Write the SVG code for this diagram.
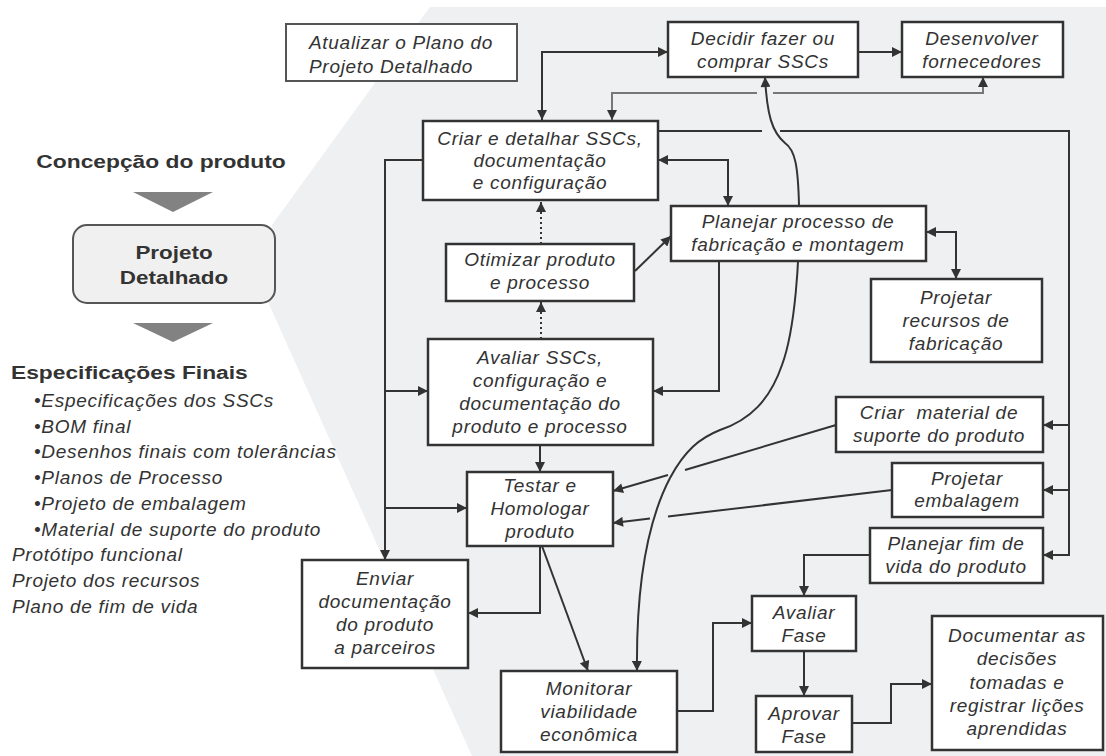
<svg xmlns="http://www.w3.org/2000/svg" width="1106" height="756" viewBox="0 0 1106 756">
  <defs>
    <style>
      .bg { fill: #eff0f2; }
      .box { fill: #ffffff; stroke: #333333; stroke-width: 2.5; }
      .t { font-family: "Liberation Sans", Arial, sans-serif; font-style: italic; font-size: 19px; letter-spacing: 0.7px; fill: #333333; text-anchor: middle; }
      .tl { text-anchor: start; }
      .b { font-family: "Liberation Sans", Arial, sans-serif; font-weight: bold; font-size: 19px; fill: #333333; }
      .ln { fill: none; stroke: #333333; stroke-width: 2; }
      .lt { stroke: #777777; }
      .dot { stroke-dasharray: 2 3; }
      .tri { fill: #828282; }
    </style>
    <marker id="ah" viewBox="0 0 10 10" refX="10" refY="5" markerWidth="11" markerHeight="10" markerUnits="userSpaceOnUse" orient="auto-start-reverse">
      <path d="M0,0 L10,5 L0,10 z" fill="#333333"/>
    </marker>
  </defs>

  <!-- background panel of the phase -->
  <polygon class="bg" points="430,7 1106,7 1106,756 472,756 268,302 272,225"/>

  <!-- left column: phase context -->
  <g id="fase">
    <text class="b" text-anchor="middle" transform="translate(161,168) scale(1.2,1)">Concepção do produto</text>
    <polygon class="tri" points="133,192 213,192 173,212"/>
    <rect x="73" y="225" width="202" height="78" rx="14" fill="#f0f0f0" stroke="#555555" stroke-width="2"/>
    <text class="b" text-anchor="middle" transform="translate(174,259) scale(1.18,1)">Projeto</text>
    <text class="b" text-anchor="middle" transform="translate(174,284) scale(1.18,1)">Detalhado</text>
    <polygon class="tri" points="133,323 213,323 173,342"/>
  </g>

  <g id="saidas">
    <text class="b" transform="translate(11,379) scale(1.2,1)">Especificações Finais</text>
    <text class="t tl" x="34" y="407">•Especificações dos SSCs</text>
    <text class="t tl" x="34" y="433">•BOM final</text>
    <text class="t tl" x="34" y="458">•Desenhos finais com tolerâncias</text>
    <text class="t tl" x="34" y="484">•Planos de Processo</text>
    <text class="t tl" x="34" y="510">•Projeto de embalagem</text>
    <text class="t tl" x="34" y="536">•Material de suporte do produto</text>
    <text class="t tl" x="12" y="561">Protótipo funcional</text>
    <text class="t tl" x="12" y="587">Projeto dos recursos</text>
    <text class="t tl" x="12" y="613">Plano de fim de vida</text>
  </g>

  <!-- connectors -->
  <g id="connectors">
    <path class="ln" d="M542,120 V52 H668" marker-start="url(#ah)" marker-end="url(#ah)"/>
    <path class="ln" d="M858,52 H902" marker-end="url(#ah)"/>
    <path class="ln lt" d="M612,120 V93 H757" marker-start="url(#ah)"/>
    <path class="ln lt" d="M773,93 H983 V77" marker-end="url(#ah)"/>
    <path class="ln" d="M658,131 H762"/>
    <path class="ln" d="M780,131 H1069 V555 H1043" marker-end="url(#ah)"/>
    <path class="ln" d="M1069,425 H1043" marker-end="url(#ah)"/>
    <path class="ln" d="M1069,490 H1043" marker-end="url(#ah)"/>
    <path class="ln" d="M658,160 H728 V206" marker-start="url(#ah)" marker-end="url(#ah)"/>
    <path class="ln" d="M423,160 H385 V560" marker-end="url(#ah)"/>
    <path class="ln" d="M385,391 H428" marker-end="url(#ah)"/>
    <path class="ln" d="M385,508 H467" marker-end="url(#ah)"/>
    <path class="ln dot" d="M541,244 V202" marker-end="url(#ah)"/>
    <path class="ln dot" d="M541,339 V302" marker-end="url(#ah)"/>
    <path class="ln" d="M635,271 L671,236" marker-end="url(#ah)"/>
    <path class="ln" d="M926,232 H956 V279" marker-start="url(#ah)" marker-end="url(#ah)"/>
    <path class="ln" d="M719,262 V391 H653" marker-end="url(#ah)"/>
    <path class="ln" d="M540,445 V472" marker-end="url(#ah)"/>
    <path class="ln" d="M540,546 V613 H468" marker-end="url(#ah)"/>
    <path class="ln" d="M542,546 L588,671" marker-end="url(#ah)"/>
    <path class="ln" d="M836,425 L685,470"/>
    <path class="ln" d="M668,475 L613,491" marker-end="url(#ah)"/>
    <path class="ln" d="M892,490 L668,516.5"/>
    <path class="ln" d="M650,518.5 L613,523" marker-end="url(#ah)"/>
    <path class="ln" d="M870,555 H804 V596" marker-end="url(#ah)"/>
    <path class="ln" d="M804,651 V696" marker-end="url(#ah)"/>
    <path class="ln" d="M677,711 H713 V623 H752" marker-end="url(#ah)"/>
    <path class="ln" d="M852,723 H891 V684 H932" marker-end="url(#ah)"/>
    <path class="ln" stroke-width="1.8" d="M765,77 C767,115 772,132 785,143 C795,150 798,165 799,205 C800,260 795,330 782,365 C770,400 750,420 720,430 C700,438 685,450 670,478 C648,520 636,580 637,671" marker-start="url(#ah)" marker-end="url(#ah)"/>
  </g>

  <!-- activities -->
  <g id="atualizar">
    <rect x="286" y="24" width="231" height="57" fill="#ffffff" stroke="#555555" stroke-width="2"/>
    <text class="t tl" x="309" y="49">Atualizar o Plano do</text>
    <text class="t tl" x="309" y="73">Projeto Detalhado</text>
  </g>
  <g id="decidir">
    <rect class="box" x="668" y="22" width="190" height="55"/>
    <text class="t" x="763" y="45">Decidir fazer ou</text>
    <text class="t" x="763" y="68">comprar SSCs</text>
  </g>
  <g id="desenvolver">
    <rect class="box" x="902" y="22" width="161" height="55"/>
    <text class="t" x="982" y="45">Desenvolver</text>
    <text class="t" x="982" y="68">fornecedores</text>
  </g>
  <g id="criar">
    <rect class="box" x="423" y="121" width="235" height="79" stroke-width="3"/>
    <text class="t" x="540" y="145">Criar e detalhar SSCs,</text>
    <text class="t" x="540" y="167">documentação</text>
    <text class="t" x="540" y="189">e configuração</text>
  </g>
  <g id="otimizar">
    <rect class="box" x="446" y="244" width="188" height="57"/>
    <text class="t" x="540" y="266">Otimizar produto</text>
    <text class="t" x="540" y="289">e processo</text>
  </g>
  <g id="planejar">
    <rect class="box" x="671" y="206" width="255" height="55"/>
    <text class="t" x="798" y="228">Planejar processo de</text>
    <text class="t" x="798" y="251">fabricação e montagem</text>
  </g>
  <g id="recursos">
    <rect class="box" x="871" y="279" width="171" height="83"/>
    <text class="t" x="956" y="304">Projetar</text>
    <text class="t" x="956" y="327">recursos de</text>
    <text class="t" x="956" y="350">fabricação</text>
  </g>
  <g id="avaliar-sscs">
    <rect class="box" x="428" y="339" width="225" height="106"/>
    <text class="t" x="540" y="364">Avaliar SSCs,</text>
    <text class="t" x="540" y="387">configuração e</text>
    <text class="t" x="540" y="410">documentação do</text>
    <text class="t" x="540" y="433">produto e processo</text>
  </g>
  <g id="material">
    <rect class="box" x="836" y="397" width="207" height="55"/>
    <text class="t" x="939" y="419" xml:space="preserve">Criar  material de</text>
    <text class="t" x="939" y="442">suporte do produto</text>
  </g>
  <g id="embalagem">
    <rect class="box" x="892" y="463" width="151" height="54"/>
    <text class="t" x="967" y="485">Projetar</text>
    <text class="t" x="967" y="507">embalagem</text>
  </g>
  <g id="fim-de-vida">
    <rect class="box" x="870" y="528" width="173" height="55"/>
    <text class="t" x="956" y="550">Planejar fim de</text>
    <text class="t" x="956" y="573">vida do produto</text>
  </g>
  <g id="testar">
    <rect class="box" x="467" y="472" width="146" height="74"/>
    <text class="t" x="540" y="492">Testar e</text>
    <text class="t" x="540" y="515">Homologar</text>
    <text class="t" x="540" y="538">produto</text>
  </g>
  <g id="enviar">
    <rect class="box" x="302" y="560" width="166" height="108"/>
    <text class="t" x="385" y="585">Enviar</text>
    <text class="t" x="385" y="608">documentação</text>
    <text class="t" x="385" y="631">do produto</text>
    <text class="t" x="385" y="654">a parceiros</text>
  </g>
  <g id="monitorar">
    <rect class="box" x="501" y="671" width="176" height="81"/>
    <text class="t" x="589" y="695">Monitorar</text>
    <text class="t" x="589" y="718">viabilidade</text>
    <text class="t" x="589" y="741">econômica</text>
  </g>
  <g id="avaliar-fase">
    <rect class="box" x="752" y="596" width="104" height="55"/>
    <text class="t" x="804" y="619">Avaliar</text>
    <text class="t" x="804" y="642">Fase</text>
  </g>
  <g id="aprovar-fase">
    <rect class="box" x="756" y="696" width="96" height="56"/>
    <text class="t" x="804" y="720">Aprovar</text>
    <text class="t" x="804" y="743">Fase</text>
  </g>
  <g id="documentar">
    <rect class="box" x="932" y="616" width="171" height="134"/>
    <text class="t" x="1017" y="642">Documentar as</text>
    <text class="t" x="1017" y="665">decisões</text>
    <text class="t" x="1017" y="689">tomadas e</text>
    <text class="t" x="1017" y="712">registrar lições</text>
    <text class="t" x="1017" y="735">aprendidas</text>
  </g>
</svg>
